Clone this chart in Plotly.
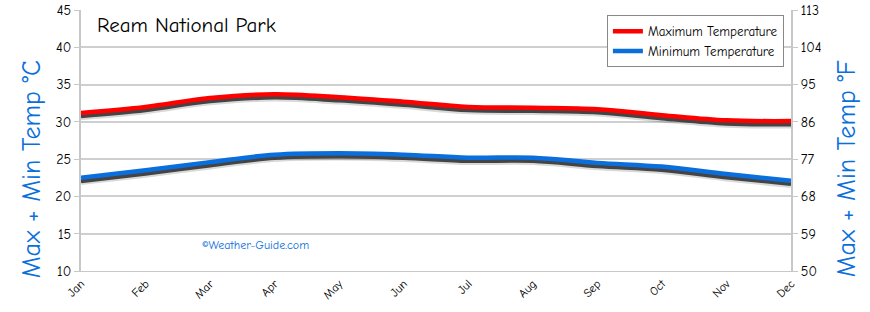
import plotly.graph_objects as go

months = ["Jan", "Feb", "Mar", "Apr", "May", "Jun", "Jul", "Aug", "Sep", "Oct", "Nov", "Dec"]
max_temp = [31.2, 32.0, 33.2, 33.7, 33.3, 32.7, 32.0, 31.9, 31.7, 30.9, 30.2, 30.1]
min_temp = [22.5, 23.5, 24.6, 25.6, 25.8, 25.6, 25.2, 25.2, 24.5, 24.0, 23.0, 22.1]
c_ticks = [10, 15, 20, 25, 30, 35, 40, 45]
f_ticks = [50, 59, 68, 77, 86, 95, 104, 113]

FONT = "Comic Neue, Comic Sans MS, Lato, sans-serif"
BLUE = "#0a6fdc"
SHADOW_OFFSET = 0.45

fig = go.Figure()
for series in (max_temp, min_temp):
    sh = [v - SHADOW_OFFSET for v in series]
    fig.add_trace(go.Scatter(x=months, y=sh, mode="lines", line=dict(color="rgba(0,0,0,0.15)", width=8, shape="spline"),
                             showlegend=False, hoverinfo="skip"))
    fig.add_trace(go.Scatter(x=months, y=sh, mode="lines", line=dict(color="#444444", width=4, shape="spline"),
                             showlegend=False, hoverinfo="skip"))

fig.add_trace(go.Scatter(x=months, y=max_temp, mode="lines", name="Maximum Temperature",
                         line=dict(color="#ff0000", width=4.5, shape="spline")))
fig.add_trace(go.Scatter(x=months, y=min_temp, mode="lines", name="Minimum Temperature",
                         line=dict(color=BLUE, width=4.5, shape="spline")))
# invisible trace to activate the right axis
fig.add_trace(go.Scatter(x=months, y=[None] * 12, yaxis="y2", showlegend=False, hoverinfo="skip"))

fig.update_layout(
    width=870, height=312,
    margin=dict(l=81, r=79, t=10, b=41, autoexpand=False),
    plot_bgcolor="white", paper_bgcolor="white",
    font=dict(family=FONT, color="black", size=12),
    xaxis=dict(
        range=[0, 11], tickangle=-45, showgrid=False, showline=True, linecolor="#c8c8c8",
        ticks="", tickfont=dict(size=12), automargin=False,
    ),
    yaxis=dict(
        range=[10, 45], tickvals=c_ticks, showgrid=True, gridcolor="#cfcfcf", gridwidth=1.5,
        showline=True, linecolor="#c8c8c8", linewidth=2, ticks="outside", ticklen=5, tickcolor="#c8c8c8",
        tickfont=dict(size=14), zeroline=False, automargin=False,
    ),
    yaxis2=dict(
        range=[50, 113], tickvals=f_ticks, overlaying="y", side="right", showgrid=False,
        showline=True, linecolor="#c8c8c8", linewidth=2, ticks="outside", ticklen=5, tickcolor="#c8c8c8",
        tickfont=dict(size=14), zeroline=False, automargin=False,
    ),
    legend=dict(
        x=0.99, y=0.98, xanchor="right", yanchor="top", bordercolor="#888", borderwidth=1,
        bgcolor="white", font=dict(size=13), tracegroupgap=2,
    ),
    annotations=[
        dict(text="Ream National Park", xref="paper", yref="paper", x=0.02, y=0.995, xanchor="left", yanchor="top",
             showarrow=False, font=dict(size=21, color="black")),
        dict(text="©Weather-Guide.com", xref="paper", yref="paper", x=0.168, y=0.1, xanchor="left", yanchor="middle",
             showarrow=False, font=dict(size=12, color=BLUE)),
        dict(text="Max + Min Temp °C", xref="paper", yref="paper", x=-0.069, y=0.39, xanchor="center",
             yanchor="middle", textangle=-90, showarrow=False, font=dict(size=26, color=BLUE)),
        dict(text="Max + Min Temp °F", xref="paper", yref="paper", x=1.079, y=0.39, xanchor="center",
             yanchor="middle", textangle=-90, showarrow=False, font=dict(size=26, color=BLUE)),
    ],
)

fig.write_html("out.html")
